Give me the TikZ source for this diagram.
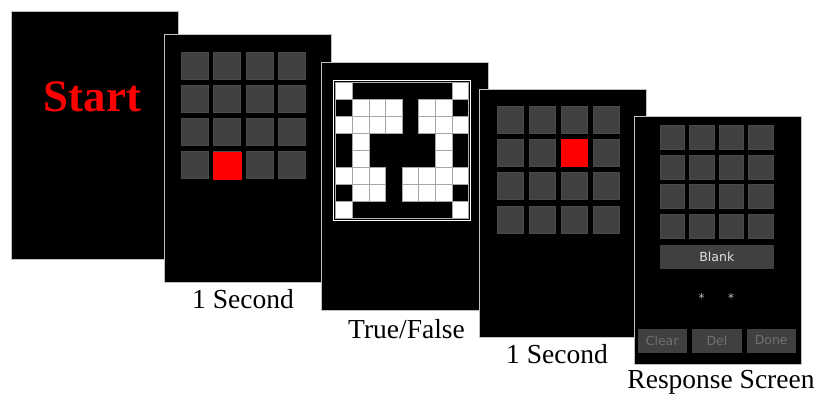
\documentclass[tikz,border=0pt]{standalone}
\usepackage{fontspec}
\setmainfont{Liberation Serif}
\newfontfamily\uisans{DejaVu Sans}
\definecolor{cellgray}{HTML}{404040}
\definecolor{celledge}{HTML}{4A4A4A}
\definecolor{paneledge}{HTML}{C0C0C0}
\definecolor{startred}{HTML}{FF0000}
\definecolor{btntext}{HTML}{707070}
\tikzset{
  panel/.style={draw=paneledge, line width=1.3pt, fill=black, inner sep=0pt,
    minimum width=167pt, minimum height=248pt, anchor=north west},
  cell/.style={fill=cellgray, draw=celledge, line width=0.5pt},
  patcell/.style={fill=white, draw=gray!70, line width=0.6pt},
  lbl/.style={font=\fontsize{27.5}{30}\selectfont, anchor=base, inner sep=0pt},
  btn/.style={fill=cellgray, inner sep=0pt, anchor=north west,
    font=\uisans\fontsize{12.5}{14}\selectfont},
  staricon/.style={text=paneledge, font=\uisans\fontsize{12}{13}\selectfont, inner sep=0pt},
}
\begin{document}
\begin{tikzpicture}[x=1pt,y=-1pt]
\useasboundingbox (0,0) rectangle (820,394);
% Panel 1
\node[panel] (p1) at (10.5,10.5) {};
\node[text=startred, font=\bfseries\fontsize{45}{50}\selectfont, anchor=base, inner sep=0pt] (start) at (92.5,111) {Start};
% Panel 2
\node[panel] (p2) at (163.5,33.5) {};
\foreach \i in {0,...,3}{
  \foreach \j in {0,...,3}{
    \draw[cell] ({181+32.5*\i},{52+33*\j}) rectangle ++(27,27.5);
  }
}
\fill[startred] (213,151.5) rectangle ++(28.5,28);
\node[lbl] (l1) at (243,308) {1 Second};
% Panel 3
\node[panel] (p3) at (320.5,62) {};
\draw[white, line width=1.6pt] (333.5,80.5) rectangle (470.5,220.5);
\draw[gray!60, line width=0.6pt] (335.7,82.3) rectangle (468.5,218.5);
\foreach \c/\r in {1/1,8/1,
  2/2,3/2,4/2,6/2,7/2,
  1/3,2/3,3/3,4/3,6/3,7/3,8/3,
  2/4,7/4, 2/5,7/5,
  1/6,2/6,3/6,5/6,6/6,7/6,8/6,
  2/7,3/7,5/7,6/7,7/7,
  1/8,8/8}{
  \draw[patcell] ({335.7+16.6*(\c-1)},{82.3+17*(\r-1)}) rectangle ++(16.6,17);
}
\node[lbl] (l2) at (406.5,338) {True/False};
% Panel 4
\node[panel] (p4) at (479,88.5) {};
\foreach \i in {0,...,3}{
  \foreach \j in {0,...,3}{
    \draw[cell] ({497.7+31.8*\i},{106+33.3*\j}) rectangle ++(26,27);
  }
}
\fill[startred] (561,139.3) rectangle ++(26.5,28);
\node[lbl] (l3) at (557,363) {1 Second};
% Panel 5
\node[panel] (p5) at (633.5,115.5) {};
\foreach \i in {0,...,3}{
  \foreach \j in {0,...,3}{
    \draw[cell] ({660+29.5*\i},{125.7+29.4*\j}) rectangle ++(24.4,24);
  }
}
\node[btn, minimum width=113.3pt, minimum height=23.3pt, text=white!88!black] (blank) at (660,245) {Blank};
\node[staricon] (s1) at (701.7,298.5) {*};
\node[staricon] (s2) at (731,298.5) {*};
\node[btn, minimum width=49.4pt, minimum height=24pt, text=btntext] (clear) at (637.3,328.3) {Clear};
\node[btn, minimum width=49.4pt, minimum height=24pt, text=btntext] (del) at (692,328.3) {Del};
\node[btn, minimum width=49.4pt, minimum height=24pt, text=btntext] (done) at (746.3,328.3) {Done};
\node[lbl] (l4) at (721,388) {Response Screen};
\end{tikzpicture}
\end{document}
